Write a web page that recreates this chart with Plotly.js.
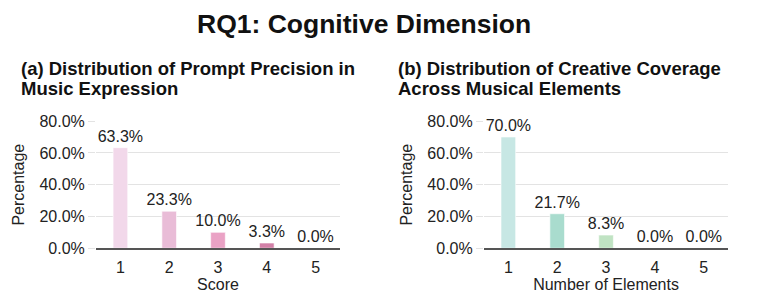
<!DOCTYPE html>
<html>
<head>
<meta charset="utf-8">
<script src="https://cdn.plot.ly/plotly-3.0.1.min.js"></script>
<style>html,body{margin:0;padding:0;background:#fff;}#chart{width:778px;height:302px;}</style>
</head>
<body>
<div id="chart"></div>
<script>
const categories = ['1', '2', '3', '4', '5'];
const precisionValues = [63.3, 23.3, 10.0, 3.3, 0.0];
const coverageValues = [70.0, 21.7, 8.3, 0.0, 0.0];
const precisionColors = ['#f2d8ea', '#e9bcd7', '#eaa2c5', '#d280a7', '#b86090'];
const coverageColors = ['#c7e7e4', '#a9dcce', '#c0e3c3', '#cfe8c4', '#dcebc6'];
const tickVals = [0, 20, 40, 60, 80];
const tickText = ['0.0%', '20.0%', '40.0%', '60.0%', '80.0%'];
const titleA = ['(a) Distribution of Prompt Precision in', 'Music Expression'];
const titleB = ['(b) Distribution of Creative Coverage', 'Across Musical Elements'];

const font = 'Liberation Sans, Arial, sans-serif';
const fs = 16;
const fmt = v => v.toFixed(1) + '%';

const traces = [
  {type: 'bar', x: categories, y: precisionValues, xaxis: 'x', yaxis: 'y',
   marker: {color: precisionColors, line: {color: 'rgba(255,255,255,0.6)', width: 1}},
   width: 0.3, text: precisionValues.map(fmt), textposition: 'outside', cliponaxis: false,
   textfont: {family: font, size: fs, color: '#222'}, hoverinfo: 'skip'},
  {type: 'bar', x: categories, y: coverageValues, xaxis: 'x2', yaxis: 'y2',
   marker: {color: coverageColors, line: {color: 'rgba(255,255,255,0.6)', width: 1}},
   width: 0.3, text: coverageValues.map(fmt), textposition: 'outside', cliponaxis: false,
   textfont: {family: font, size: fs, color: '#222'}, hoverinfo: 'skip'}
];

const yax = () => ({
  domain: [0.178, 0.599], range: [0, 80], tickvals: tickVals, ticktext: tickText,
  showgrid: true, gridcolor: '#e3e3e3', gridwidth: 1, zeroline: false,
  ticks: 'outside', ticklen: 7, tickcolor: '#e3e3e3',
  tickfont: {family: font, size: fs, color: '#222'},
  title: {text: 'Percentage', font: {family: font, size: fs, color: '#222'}, standoff: 10},
  fixedrange: true
});
const xax = (dom, title) => ({
  domain: dom, type: 'category', showline: true, linecolor: '#555', linewidth: 1.5,
  ticks: '', ticklabelstandoff: 4, tickfont: {family: font, size: fs, color: '#222'},
  title: {text: title, font: {family: font, size: fs, color: '#222'}, standoff: 0},
  fixedrange: true
});

const sub = (text, x, yPix) => ({
  text: '<b>' + text + '</b>', xref: 'paper', yref: 'paper', x: x / 778, y: 1 - yPix / 302,
  xanchor: 'left', yanchor: 'middle', align: 'left', showarrow: false,
  font: {family: font, size: 18.5, color: '#111'}
});

const layout = {
  width: 778, height: 302, margin: {l: 0, r: 0, t: 0, b: 0},
  paper_bgcolor: '#fff', plot_bgcolor: '#fff', showlegend: false, bargap: 0.7,
  font: {family: font, color: '#222'},
  uniformtext: {minsize: fs, mode: 'show'},
  xaxis: xax([0.1234, 0.437], 'Score'),
  yaxis: yax(),
  xaxis2: Object.assign(xax([0.622, 0.936], 'Number of Elements'), {anchor: 'y2'}),
  yaxis2: Object.assign(yax(), {anchor: 'x2'}),
  annotations: [
    {text: '<b>RQ1: Cognitive Dimension</b>', xref: 'paper', yref: 'paper', x: 364/778, y: 1 - 24/302,
     xanchor: 'center', yanchor: 'middle', showarrow: false, font: {family: font, size: 26.5, color: '#111'}},
    sub(titleA[0], 19, 68), sub(titleA[1], 19, 88.5),
    sub(titleB[0], 396, 68), sub(titleB[1], 396, 88.5)
  ]
};

Plotly.newPlot('chart', traces, layout, {displayModeBar: false, staticPlot: true});
</script>
</body>
</html>
